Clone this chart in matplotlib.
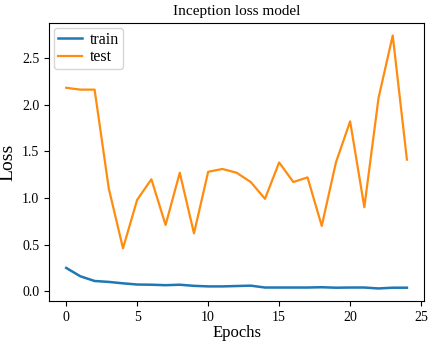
import matplotlib
matplotlib.use("Agg")
import matplotlib.pyplot as plt

epochs = list(range(25))
train_loss = [0.25, 0.16, 0.11, 0.10, 0.085, 0.072, 0.07, 0.065, 0.07, 0.058,
              0.052, 0.052, 0.056, 0.06, 0.04, 0.04, 0.04, 0.04, 0.043, 0.038,
              0.04, 0.04, 0.03, 0.038, 0.038]
test_loss = [2.18, 2.16, 2.16, 1.1, 0.46, 0.98, 1.2, 0.71, 1.27, 0.62,
             1.28, 1.31, 1.27, 1.17, 0.99, 1.38, 1.17, 1.22, 0.70, 1.38,
             1.82, 0.90, 2.07, 2.74, 1.41]

plt.rcParams["font.family"] = ["Liberation Serif", "DejaVu Serif"]

fig = plt.figure(figsize=(4.43, 3.41), dpi=100)
ax = fig.add_axes([0.111, 0.117, 0.846, 0.816])

ax.plot(epochs, train_loss, color="#1f77b4", lw=1.8, label="train")
ax.plot(epochs, test_loss, color="#ff8c0e", lw=1.6, label="test")

ax.set_title("Inception loss model", fontsize=11)
ax.set_xlabel("Epochs", fontsize=12, labelpad=1)
ax.set_ylabel("Loss", fontsize=14)
ax.set_xticks([0, 5, 10, 15, 20, 25])
ax.set_yticks([0.0, 0.5, 1.0, 1.5, 2.0, 2.5])
ax.tick_params(labelsize=10)
ax.legend(loc="upper left", fontsize=11.5, handlelength=1.5, borderpad=0.25,
          labelspacing=0.1, handletextpad=0.5, borderaxespad=0.3)

plt.savefig("out.png", dpi=100)
